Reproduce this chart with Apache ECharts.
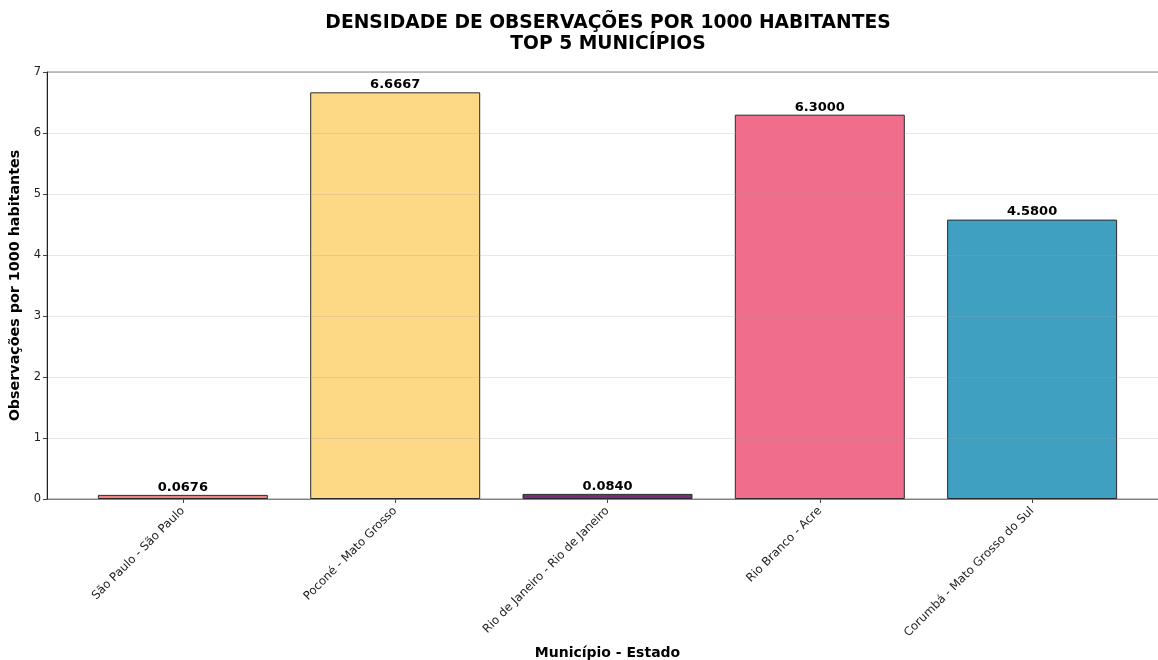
<!DOCTYPE html>
<html>
<head>
<meta charset="utf-8">
<script src="https://cdn.jsdelivr.net/npm/echarts@6/dist/echarts.min.js"></script>
<style>
html,body{margin:0;padding:0;background:#fff;}
#chart{width:1158px;height:660px;}
</style>
</head>
<body>
<div id="chart"></div>
<script>
const categories = ['São Paulo - São Paulo', 'Poconé - Mato Grosso', 'Rio de Janeiro - Rio de Janeiro', 'Rio Branco - Acre', 'Corumbá - Mato Grosso do Sul'];
const values = [0.0676, 6.6667, 0.0840, 6.3000, 4.5800];
const barColors = ['#F08282', '#FDD885', '#7A2C7E', '#F06D8B', '#40A0C2'];
const yTicks = [0, 1, 2, 3, 4, 5, 6, 7];

const FONT = 'DejaVu Sans';
const chart = echarts.init(document.getElementById('chart'), null, {renderer: 'canvas'});

const barData = values.map((v, i) => ({
  value: [i, v],
  itemStyle: {color: barColors[i], borderColor: '#2b2b2b', borderWidth: 1}
}));

chart.setOption({
  animation: false,
  backgroundColor: '#ffffff',
  textStyle: {fontFamily: FONT},
  title: {
    text: 'DENSIDADE DE OBSERVAÇÕES POR 1000 HABITANTES\nTOP 5 MUNICÍPIOS',
    left: 603,
    top: 8,
    textAlign: 'center',
    textStyle: {fontFamily: FONT, fontSize: 18.7, fontWeight: 'bold', color: '#000', lineHeight: 21}
  },
  grid: {
    left: 47, top: 72, width: 1121, height: 427,
    outerBoundsMode: 'none',
    show: true, borderColor: '#888', borderWidth: 1, backgroundColor: 'transparent',
    containLabel: false
  },
  xAxis: {
    type: 'value',
    min: -0.64, max: 4.64,
    name: 'Município - Estado',
    nameLocation: 'middle',
    nameGap: 147,
    nameTextStyle: {fontFamily: FONT, fontSize: 14, fontWeight: 'bold', color: '#000'},
    axisLine: {show: true, onZero: false, lineStyle: {color: '#777', width: 1}},
    axisTick: {show: true, customValues: categories.map((c, i) => i), length: 4, lineStyle: {color: '#444'}},
    axisLabel: {
      customValues: categories.map((c, i) => i),
      rotate: 45, fontSize: 11.7, color: '#222', fontFamily: FONT, margin: 10,
      formatter: v => categories[Math.round(v)] || ''
    },
    splitLine: {show: false}
  },
  yAxis: {
    type: 'value',
    min: 0, max: 7, interval: 1,
    z: 10,
    name: 'Observações por 1000 habitantes',
    nameLocation: 'middle',
    nameGap: 21,
    nameTextStyle: {fontFamily: FONT, fontSize: 14.3, fontWeight: 'bold', color: '#000'},
    axisLine: {show: true, onZero: false, lineStyle: {color: '#222', width: 1}},
    axisTick: {show: true, length: 4, lineStyle: {color: '#444'}},
    axisLabel: {fontSize: 11.5, color: '#222', fontFamily: FONT, margin: 6,
      customValues: yTicks},
    splitLine: {show: true, lineStyle: {color: 'rgba(160,160,160,0.25)', width: 1}}
  },
  series: [{
    type: 'bar',
    data: barData,
    barWidth: 170,
    label: {
      show: true, position: 'top', distance: 1,
      fontFamily: FONT, fontSize: 13, fontWeight: 'bold', color: '#000',
      formatter: p => p.value[1].toFixed(4)
    }
  }]
});
</script>
</body>
</html>
